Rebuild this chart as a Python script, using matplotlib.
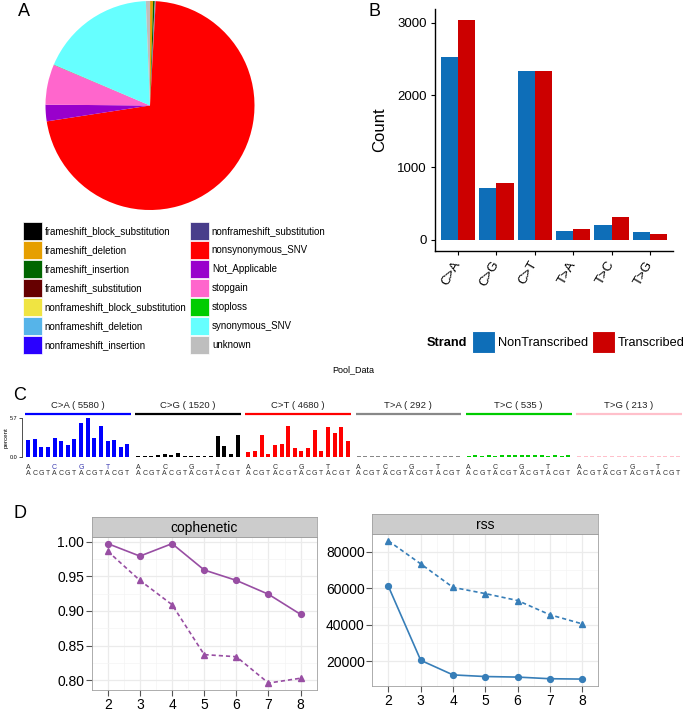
import numpy as np
import matplotlib.pyplot as plt
from matplotlib.patches import Patch

plt.rcParams['font.family'] = ['Liberation Sans', 'DejaVu Sans']

W, H = 685, 711

# ---- A: functional classes (percent of variants)
func_classes = ['frameshift_block_substitution', 'frameshift_deletion', 'frameshift_insertion',
                'frameshift_substitution', 'nonframeshift_block_substitution', 'nonframeshift_deletion',
                'nonframeshift_insertion', 'nonframeshift_substitution', 'nonsynonymous_SNV',
                'Not_Applicable', 'stopgain', 'stoploss', 'synonymous_SNV', 'unknown']
func_pct = [0.02, 0.45, 0.25, 0.03, 0.02, 0.05, 0.03, 0.03, 71.8, 2.56, 6.25, 0.05, 17.97, 0.64]
func_colors = ['#000000', '#E69F00', '#006600', '#660000', '#F0E442', '#56B4E9', '#2A00FF',
               '#483D8B', '#FF0000', '#9900CC', '#FF66CC', '#00CC00', '#66FFFF', '#BEBEBE']

# ---- B: strand bias
sub_types = ['C>A', 'C>G', 'C>T', 'T>A', 'T>C', 'T>G']
nontranscribed = [2523, 709, 2338, 124, 203, 110]
transcribed = [3043, 791, 2330, 148, 318, 83]

# ---- C: mutation spectrum (percent per trinucleotide context)
spec_counts = [5580, 1520, 4680, 292, 535, 213]
spec_colors = ['#0000FF', '#000000', '#FF0000', '#888888', '#00CC00', '#FFC0CB']
spec_ca = [2.49, 2.63, 1.44, 1.44, 2.8, 2.39, 1.75, 2.66, 5.0, 5.7, 2.83, 4.5, 2.35, 2.47, 1.55, 1.87]
spec_cg = [0.25, 0.25, 0.2, 0.3, 0.45, 0.3, 0.62, 0.25, 0.2, 0.2, 0.2, 0.25, 3.0, 1.62, 0.43, 3.15]
spec_ct = [0.78, 0.86, 3.28, 0.43, 1.82, 1.85, 4.45, 1.29, 0.96, 1.29, 4.0, 0.86, 4.38, 3.45, 4.38, 2.39]
spec_ta = [0.13, 0.13, 0.14, 0.13, 0.13, 0.14, 0.14, 0.15, 0.14, 0.14, 0.2, 0.14, 0.13, 0.14, 0.15, 0.13]
spec_tc = [0.2, 0.28, 0.25, 0.28, 0.2, 0.28, 0.4, 0.3, 0.3, 0.3, 0.3, 0.28, 0.2, 0.28, 0.25, 0.28]
spec_tg = [0.12, 0.14, 0.12, 0.15, 0.13, 0.15, 0.2, 0.13, 0.12, 0.13, 0.15, 0.13, 0.13, 0.15, 0.13, 0.13]
spectra = [spec_ca, spec_cg, spec_ct, spec_ta, spec_tc, spec_tg]
bases = ['A', 'C', 'G', 'T']

# ---- D: NMF rank survey
ranks = [2, 3, 4, 5, 6, 7, 8]
coph_data = [0.997, 0.979, 0.997, 0.959, 0.944, 0.924, 0.895]
coph_random = [0.986, 0.944, 0.909, 0.837, 0.834, 0.796, 0.803]
rss_data = [61000, 20500, 12500, 11600, 11300, 10400, 10200]
rss_random = [86000, 73400, 60500, 57100, 53300, 45500, 40500]


def px_axes(fig, x0, y0, x1, y1):
    return fig.add_axes([x0 / W, 1 - y1 / H, (x1 - x0) / W, (y1 - y0) / H])


def fig_xy(x, y):
    return x / W, 1 - y / H


fig = plt.figure(figsize=(W / 100, H / 100), dpi=100)

# ================= A
axa = px_axes(fig, 45.5, 1, 254.5, 210)
axa.pie(func_pct, colors=func_colors, startangle=90, counterclock=False,
        wedgeprops=dict(linewidth=0))
axa.set_xlim(-1, 1)
axa.set_ylim(-1, 1)
axa.set_aspect('equal')
axa.axis('off')
fig.text(*fig_xy(24, 12), 'A', fontsize=13, ha='center', va='center')

handles = [Patch(facecolor=c, edgecolor='white', linewidth=0.5) for c in func_colors]
fig.legend(handles, func_classes, ncol=2, loc='upper left', bbox_to_anchor=fig_xy(23, 222),
           frameon=False, fontsize=7, handlelength=1.95, handleheight=2.47,
           handletextpad=0.3, labelspacing=0.1, columnspacing=0.35,
           borderpad=0, borderaxespad=0)

# ================= B
blue_b, red_b = '#0E6EB8', '#CC0000'
axb = px_axes(fig, 435, 8.7, 673, 250.7)
x = np.arange(1, len(sub_types) + 1)
axb.bar(x - 0.225, nontranscribed, width=0.45, color=blue_b, label='NonTranscribed')
axb.bar(x + 0.225, transcribed, width=0.45, color=red_b, label='Transcribed')
axb.set_xlim(0.4, 6.6)
axb.set_ylim(-152, 3195)
axb.set_yticks([0, 1000, 2000, 3000])
axb.set_xticks(x)
axb.set_xticklabels(sub_types, rotation=60, ha='right', va='center', rotation_mode='anchor')
for s in ['top', 'right']:
    axb.spines[s].set_visible(False)
for s in ['left', 'bottom']:
    axb.spines[s].set_linewidth(1.0)
axb.tick_params(labelsize=9.5, length=3, pad=3, colors='black')
axb.tick_params(axis='x', pad=5)
axb.set_ylabel('Count', fontsize=12)
axb.yaxis.set_label_coords(-0.2, 0.5)
fig.text(*fig_xy(375, 11), 'B', fontsize=13, ha='center', va='center')

fig.text(*fig_xy(427, 343), 'Strand', fontsize=9.2, fontweight='bold', ha='left', va='center')
hb = [Patch(facecolor=blue_b, edgecolor='white', linewidth=0.8),
      Patch(facecolor=red_b, edgecolor='white', linewidth=0.8)]
fig.legend(hb, ['NonTranscribed', 'Transcribed'], ncol=2, loc='upper left',
           bbox_to_anchor=fig_xy(472, 331), frameon=False, fontsize=9.2,
           handlelength=1.8, handleheight=2.3, handletextpad=0.25,
           columnspacing=0.25, borderpad=0, borderaxespad=0)

# ================= C
px_unit = 6.63
seg_pitch = 16.62
axc = px_axes(fig, 22, 417.7, 685, 457.3)
axc.set_xlim(-0.905, -0.905 + 663 / px_unit)
axc.set_ylim(0, 5.7)
for s, vals in enumerate(spectra):
    xs = s * seg_pitch + np.arange(16)
    axc.bar(xs, vals, width=0.6, color=spec_colors[s])
    axc.plot([xs[0] - 0.45, xs[-1] + 0.5], [6.23, 6.23], color=spec_colors[s], lw=1.6,
             clip_on=False, solid_capstyle='butt')
    axc.text(xs.mean(), 7.5, '%s ( %d )' % (sub_types[s], spec_counts[s]),
             ha='center', va='center', fontsize=6.8, color='#222222')
    for k in range(16):
        axc.text(xs[k], -2.4, bases[k % 4], ha='center', va='center', fontsize=5,
                 color='#333333')
    for j in range(4):
        col = '#3a3ab0' if (s == 0 and j > 0) else '#333333'
        axc.text(xs[j * 4], -1.4, bases[j], ha='center', va='center', fontsize=5,
                 color=col)
for sp in ['top', 'right', 'bottom']:
    axc.spines[sp].set_visible(False)
axc.spines['left'].set_linewidth(0.6)
axc.spines['left'].set_color('#333333')
axc.set_xticks([])
axc.set_yticks([0, 5.7])
axc.set_yticklabels(['0.0', '5.7'])
axc.tick_params(axis='y', labelsize=4, length=2, width=0.5, pad=1)
axc.set_ylabel('percent', fontsize=4.5, labelpad=1)
fig.text(*fig_xy(353.5, 370), 'Pool_Data', fontsize=6.5, ha='center', va='center')
fig.text(*fig_xy(20, 395), 'C', fontsize=13, ha='center', va='center')

# ================= D
purple, blue_d = '#984EA3', '#377EB8'


def facet(x0, y0, x1, y1, strip_h, title, solid, dashed, color, ylim, yticks, labels):
    ax = px_axes(fig, x0, y0, x1, y1)
    st = px_axes(fig, x0, y0 - strip_h, x1, y0)
    st.set_facecolor('#CCCCCC')
    st.set_xticks([])
    st.set_yticks([])
    for sp in st.spines.values():
        sp.set_color('#A0A0A0')
        sp.set_linewidth(0.6)
    st.text(0.5, 0.45, title, transform=st.transAxes, ha='center', va='center', fontsize=10)

    ax.plot(ranks, solid, color=color, lw=1.2, marker='o', ms=4.2)
    ax.plot(ranks, dashed, color=color, lw=1.2, ls=(0, (2.5, 1.8)), marker='^', ms=5)
    ax.set_xlim(1.7, 8.3)
    ax.set_ylim(*ylim)
    ax.set_xticks(ranks)
    ax.set_yticks(yticks)
    ax.set_yticklabels(labels)
    ax.set_xticks(np.arange(1.5, 8.6, 1), minor=True)
    ax.set_yticks(np.array(yticks[:-1]) + (yticks[1] - yticks[0]) / 2, minor=True)
    ax.set_axisbelow(True)
    ax.grid(True, which='major', color='#EBEBEB', lw=0.9)
    ax.grid(True, which='minor', color='#F4F4F4', lw=0.5)
    ax.tick_params(which='minor', length=0)
    ax.tick_params(which='major', labelsize=10, length=4.5, width=0.8, pad=1,
                   color='#555555', labelcolor='black')
    for sp in ax.spines.values():
        sp.set_color('#A0A0A0')
        sp.set_linewidth(0.6)
    return ax


facet(91.7, 536.7, 316.7, 690, 19.7, 'cophenetic', coph_data, coph_random, purple,
      (0.786, 1.007), [0.80, 0.85, 0.90, 0.95, 1.00], ['0.80', '0.85', '0.90', '0.95', '1.00'])
facet(372.3, 534, 598.3, 686, 19.7, 'rss', rss_data, rss_random, blue_d,
      (6410, 89790), [20000, 40000, 60000, 80000], ['20000', '40000', '60000', '80000'])
fig.text(*fig_xy(20, 513), 'D', fontsize=13, ha='center', va='center')

fig.savefig('out.png', dpi=100)
